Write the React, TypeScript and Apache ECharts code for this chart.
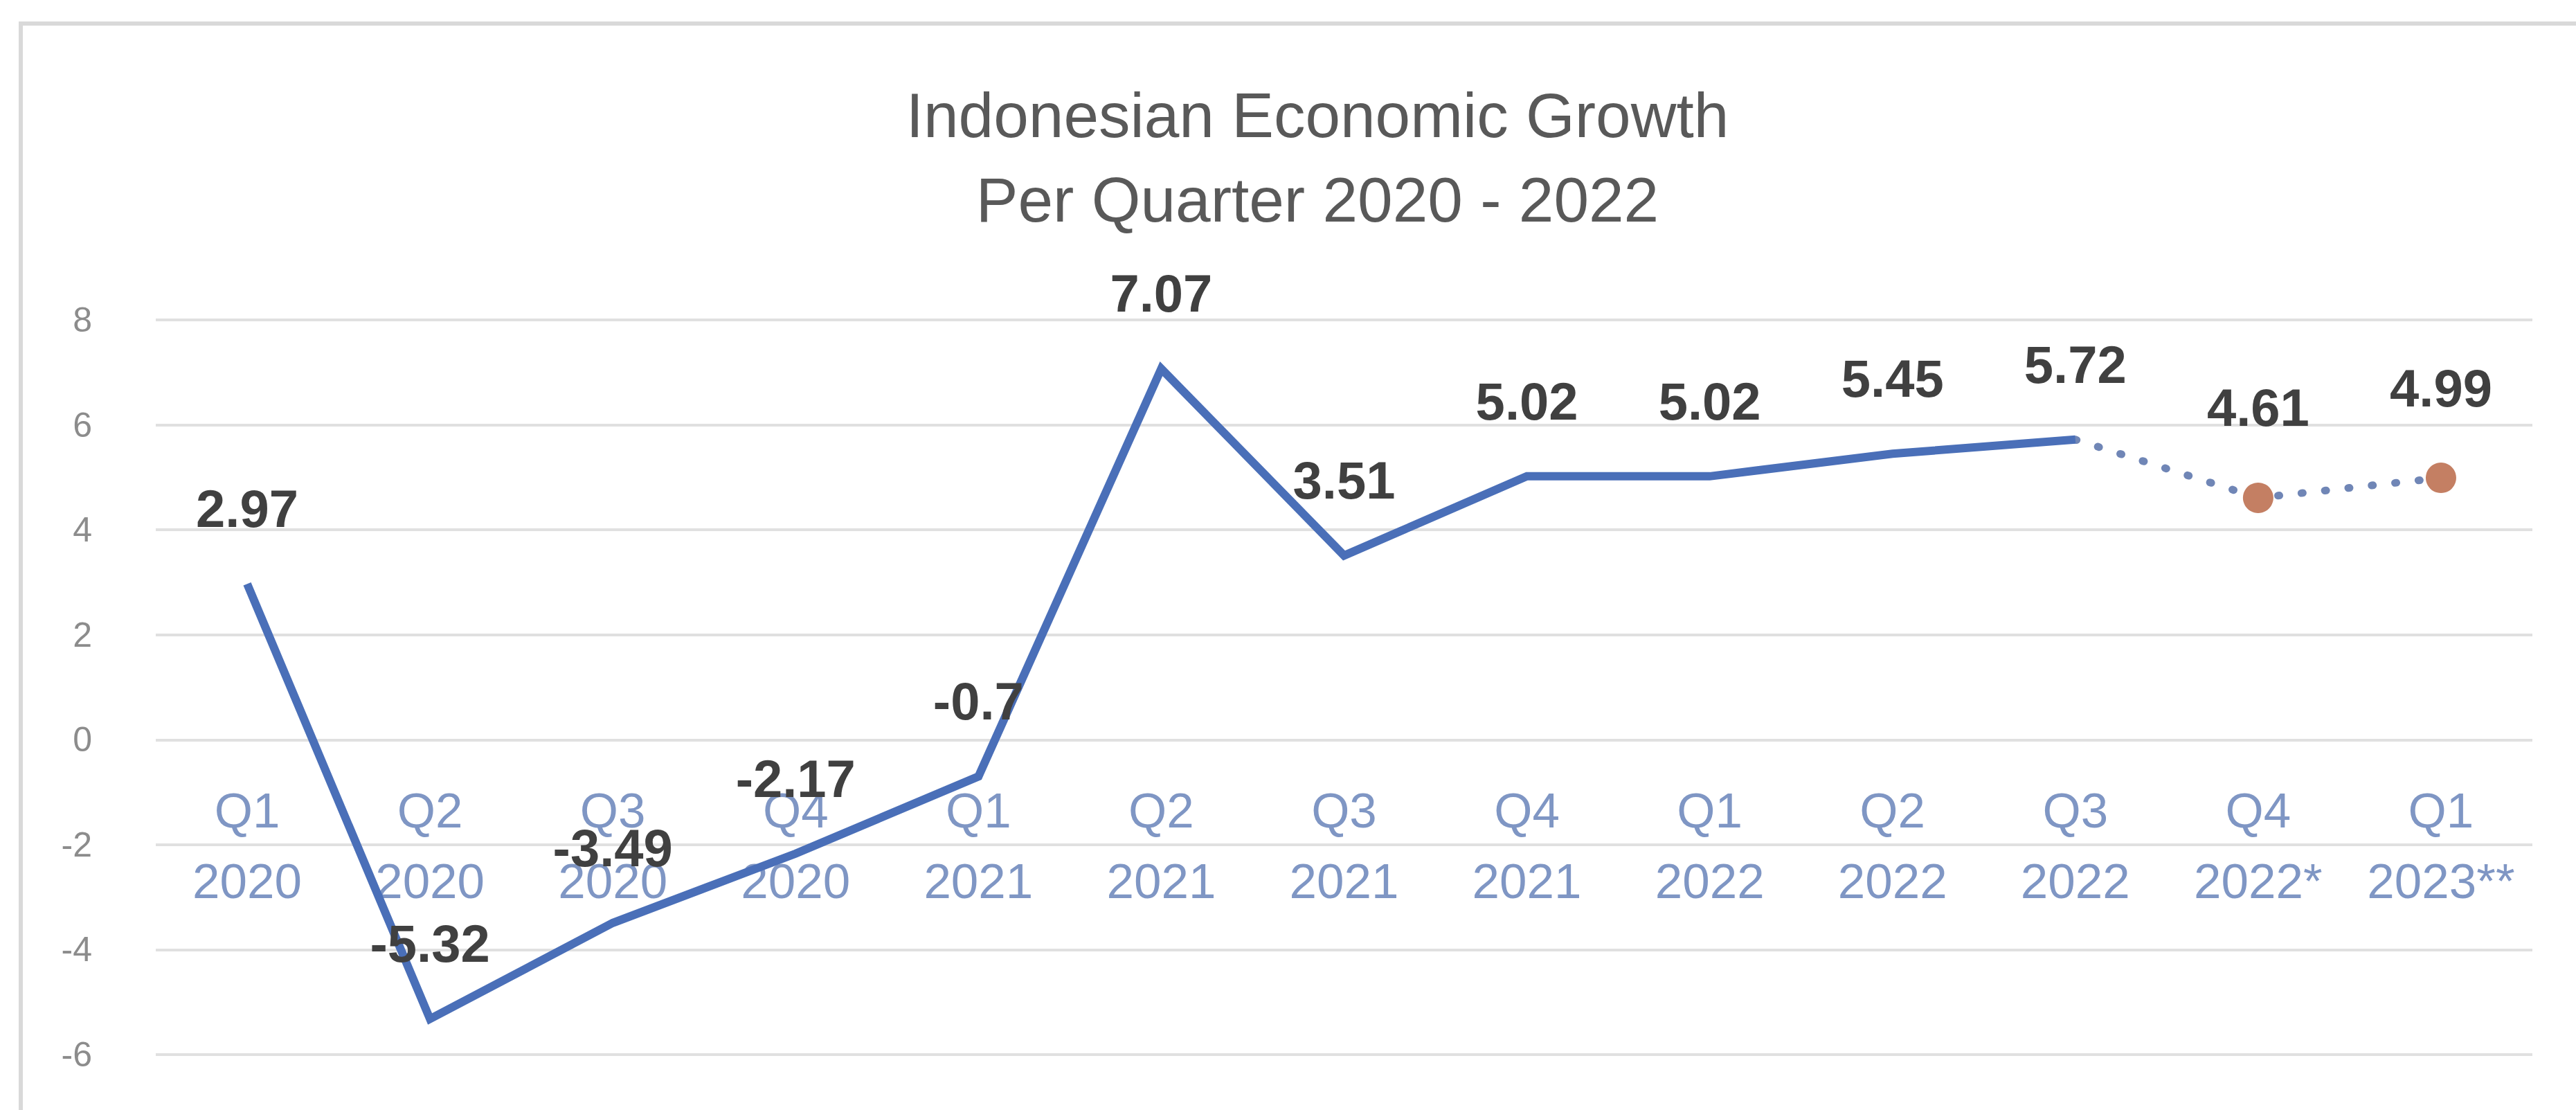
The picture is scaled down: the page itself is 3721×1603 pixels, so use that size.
import React, { useEffect, useRef } from "react";
import * as echarts from "echarts";

const quarters = ["Q1", "Q2", "Q3", "Q4", "Q1", "Q2", "Q3", "Q4", "Q1", "Q2", "Q3", "Q4", "Q1"];
const years = ["2020", "2020", "2020", "2020", "2021", "2021", "2021", "2021", "2022", "2022", "2022", "2022*", "2023**"];
const actualGrowth: (number | null)[] = [2.97, -5.32, -3.49, -2.17, -0.7, 7.07, 3.51, 5.02, 5.02, 5.45, 5.72, null, null];
const projectedGrowth: (number | null)[] = [null, null, null, null, null, null, null, null, null, null, 5.72, 4.61, 4.99];
const projectedLabelled = [11, 12];
const yTicks = { min: -6, max: 8, interval: 2 };
const titleLines = ["Indonesian Economic Growth", "Per Quarter 2020 - 2022"];

const FONT = "'Liberation Sans', Arial, sans-serif";

export default function App() {
  const ref = useRef<HTMLDivElement>(null);
  useEffect(() => {
    if (!ref.current) return;
    const chart = echarts.init(ref.current, undefined, { renderer: "svg" });
    const categories = quarters.map((q, i) => `${q}\n${years[i]}`);
    const labelStyle = {
      show: true,
      position: "top",
      distance: 70,
      fontFamily: FONT,
      fontSize: 76,
      fontWeight: "bold",
      color: "#404040",
    };
    chart.setOption({
      animation: false,
      backgroundColor: "#ffffff",
      title: {
        text: titleLines.join("\n"),
        left: 1898,
        top: 100,
        textAlign: "center",
        textStyle: {
          fontFamily: FONT,
          fontSize: 91,
          fontWeight: "normal",
          color: "#595959",
          lineHeight: 122,
        },
      },
      graphic: [
        {
          type: "rect",
          shape: { x: 30, y: 34, width: 3800, height: 1700 },
          style: { fill: "none", stroke: "#d9d9d9", lineWidth: 6 },
          silent: true,
          z: -10,
        },
      ],
      grid: { left: 225, right: 63, top: 462, bottom: 80 },
      xAxis: {
        type: "category",
        data: categories,
        boundaryGap: true,
        position: "bottom",
        axisLine: { show: false, onZero: false },
        axisTick: { show: false },
        splitLine: { show: false },
        axisLabel: {
          margin: -404,
          fontFamily: FONT,
          fontSize: 71,
          lineHeight: 102,
          color: "#7f96c4",
          interval: 0,
        },
      },
      yAxis: {
        type: "value",
        min: yTicks.min,
        max: yTicks.max,
        interval: yTicks.interval,
        axisLine: { show: false },
        axisTick: { show: false },
        axisLabel: {
          margin: 92,
          fontFamily: FONT,
          fontSize: 50,
          color: "#8c8c8c",
        },
        splitLine: { show: true, lineStyle: { color: "#e0e0e0", width: 4 } },
      },
      series: [
        {
          type: "line",
          data: actualGrowth,
          showSymbol: true,
          symbol: "circle",
          symbolSize: 1,
          itemStyle: { color: "rgba(0,0,0,0)" },
          lineStyle: { color: "#4a6fb8", width: 12, join: "miter" },
          label: labelStyle,
          z: 3,
        },
        {
          type: "line",
          data: projectedGrowth.map((v, i) =>
            projectedLabelled.includes(i)
              ? { value: v, symbol: "circle", symbolSize: 44, label: labelStyle }
              : { value: v, symbol: "none", label: { show: false } }
          ),
          lineStyle: { color: "#7086b6", width: 11, type: [2, 32], cap: "round" },
          itemStyle: { color: "#c47f63" },
          z: 2,
        },
      ],
    });
    return () => chart.dispose();
  }, []);
  return (
    <div
      ref={ref}
      style={{ position: "fixed", left: 0, top: 0, width: 3721, height: 1603 }}
    />
  );
}
